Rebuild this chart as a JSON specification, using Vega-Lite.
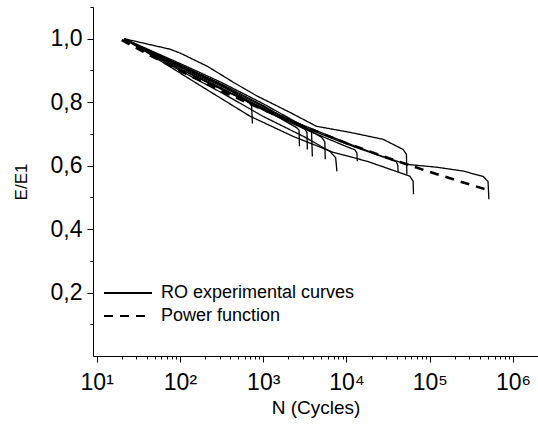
{
  "$schema": "https://vega.github.io/schema/vega-lite/v6.json",
  "width": 445,
  "height": 349,
  "autosize": "none",
  "padding": {"left": 93, "top": 7, "right": 0, "bottom": 70},
  "background": "white",
  "config": {"font": "Liberation Sans", "view": {"stroke": null}},
  "datasets": {
    "exp": [
      {"c": "1", "i": 1, "N": 21.38, "E": 1.0, "type": "RO experimental curves"},
      {"c": "1", "i": 2, "N": 39.81, "E": 0.967, "type": "RO experimental curves"},
      {"c": "1", "i": 3, "N": 100, "E": 0.917, "type": "RO experimental curves"},
      {"c": "1", "i": 4, "N": 316.2, "E": 0.855, "type": "RO experimental curves"},
      {"c": "1", "i": 5, "N": 631, "E": 0.805, "type": "RO experimental curves"},
      {"c": "1", "i": 6, "N": 724.4, "E": 0.79, "type": "RO experimental curves"},
      {"c": "1", "i": 7, "N": 741.3, "E": 0.733, "type": "RO experimental curves"},

      {"c": "2", "i": 1, "N": 21.38, "E": 1.0, "type": "RO experimental curves"},
      {"c": "2", "i": 2, "N": 100, "E": 0.912, "type": "RO experimental curves"},
      {"c": "2", "i": 3, "N": 316.2, "E": 0.85, "type": "RO experimental curves"},
      {"c": "2", "i": 4, "N": 1000, "E": 0.78, "type": "RO experimental curves"},
      {"c": "2", "i": 5, "N": 2512, "E": 0.72, "type": "RO experimental curves"},
      {"c": "2", "i": 6, "N": 2692, "E": 0.712, "type": "RO experimental curves"},
      {"c": "2", "i": 7, "N": 2723, "E": 0.661, "type": "RO experimental curves"},

      {"c": "3", "i": 1, "N": 21.38, "E": 0.998, "type": "RO experimental curves"},
      {"c": "3", "i": 2, "N": 100, "E": 0.918, "type": "RO experimental curves"},
      {"c": "3", "i": 3, "N": 316.2, "E": 0.857, "type": "RO experimental curves"},
      {"c": "3", "i": 4, "N": 1000, "E": 0.789, "type": "RO experimental curves"},
      {"c": "3", "i": 5, "N": 3162, "E": 0.715, "type": "RO experimental curves"},
      {"c": "3", "i": 6, "N": 3350, "E": 0.705, "type": "RO experimental curves"},
      {"c": "3", "i": 7, "N": 3388, "E": 0.651, "type": "RO experimental curves"},

      {"c": "4", "i": 1, "N": 21.38, "E": 1.0, "type": "RO experimental curves"},
      {"c": "4", "i": 2, "N": 100, "E": 0.922, "type": "RO experimental curves"},
      {"c": "4", "i": 3, "N": 316.2, "E": 0.862, "type": "RO experimental curves"},
      {"c": "4", "i": 4, "N": 1000, "E": 0.795, "type": "RO experimental curves"},
      {"c": "4", "i": 5, "N": 3162, "E": 0.722, "type": "RO experimental curves"},
      {"c": "4", "i": 6, "N": 3802, "E": 0.708, "type": "RO experimental curves"},
      {"c": "4", "i": 7, "N": 3890, "E": 0.629, "type": "RO experimental curves"},

      {"c": "5", "i": 1, "N": 21.38, "E": 1.0, "type": "RO experimental curves"},
      {"c": "5", "i": 2, "N": 100, "E": 0.915, "type": "RO experimental curves"},
      {"c": "5", "i": 3, "N": 316.2, "E": 0.853, "type": "RO experimental curves"},
      {"c": "5", "i": 4, "N": 1000, "E": 0.786, "type": "RO experimental curves"},
      {"c": "5", "i": 5, "N": 3162, "E": 0.718, "type": "RO experimental curves"},
      {"c": "5", "i": 6, "N": 5012, "E": 0.69, "type": "RO experimental curves"},
      {"c": "5", "i": 7, "N": 5495, "E": 0.675, "type": "RO experimental curves"},
      {"c": "5", "i": 8, "N": 5559, "E": 0.62, "type": "RO experimental curves"},

      {"c": "6", "i": 1, "N": 21.38, "E": 0.998, "type": "RO experimental curves"},
      {"c": "6", "i": 2, "N": 100, "E": 0.9, "type": "RO experimental curves"},
      {"c": "6", "i": 3, "N": 316.2, "E": 0.83, "type": "RO experimental curves"},
      {"c": "6", "i": 4, "N": 1000, "E": 0.755, "type": "RO experimental curves"},
      {"c": "6", "i": 5, "N": 3162, "E": 0.69, "type": "RO experimental curves"},
      {"c": "6", "i": 6, "N": 6310, "E": 0.645, "type": "RO experimental curves"},
      {"c": "6", "i": 7, "N": 7413, "E": 0.625, "type": "RO experimental curves"},
      {"c": "6", "i": 8, "N": 7674, "E": 0.582, "type": "RO experimental curves"},

      {"c": "7", "i": 1, "N": 21.38, "E": 1.0, "type": "RO experimental curves"},
      {"c": "7", "i": 2, "N": 100, "E": 0.91, "type": "RO experimental curves"},
      {"c": "7", "i": 3, "N": 316.2, "E": 0.845, "type": "RO experimental curves"},
      {"c": "7", "i": 4, "N": 1000, "E": 0.775, "type": "RO experimental curves"},
      {"c": "7", "i": 5, "N": 3162, "E": 0.715, "type": "RO experimental curves"},
      {"c": "7", "i": 6, "N": 10000, "E": 0.66, "type": "RO experimental curves"},
      {"c": "7", "i": 7, "N": 12589, "E": 0.65, "type": "RO experimental curves"},
      {"c": "7", "i": 8, "N": 13335, "E": 0.64, "type": "RO experimental curves"},
      {"c": "7", "i": 9, "N": 13490, "E": 0.614, "type": "RO experimental curves"},

      {"c": "8", "i": 1, "N": 21.38, "E": 1.0, "type": "RO experimental curves"},
      {"c": "8", "i": 2, "N": 100, "E": 0.905, "type": "RO experimental curves"},
      {"c": "8", "i": 3, "N": 316.2, "E": 0.842, "type": "RO experimental curves"},
      {"c": "8", "i": 4, "N": 1000, "E": 0.778, "type": "RO experimental curves"},
      {"c": "8", "i": 5, "N": 3162, "E": 0.72, "type": "RO experimental curves"},
      {"c": "8", "i": 6, "N": 10000, "E": 0.668, "type": "RO experimental curves"},
      {"c": "8", "i": 7, "N": 31623, "E": 0.622, "type": "RO experimental curves"},
      {"c": "8", "i": 8, "N": 39811, "E": 0.612, "type": "RO experimental curves"},
      {"c": "8", "i": 9, "N": 41400, "E": 0.6, "type": "RO experimental curves"},
      {"c": "8", "i": 10, "N": 41687, "E": 0.579, "type": "RO experimental curves"},

      {"c": "9", "i": 1, "N": 21.38, "E": 1.0, "type": "RO experimental curves"},
      {"c": "9", "i": 2, "N": 75.86, "E": 0.967, "type": "RO experimental curves"},
      {"c": "9", "i": 3, "N": 100, "E": 0.955, "type": "RO experimental curves"},
      {"c": "9", "i": 4, "N": 213.8, "E": 0.913, "type": "RO experimental curves"},
      {"c": "9", "i": 5, "N": 436.5, "E": 0.863, "type": "RO experimental curves"},
      {"c": "9", "i": 6, "N": 851.1, "E": 0.819, "type": "RO experimental curves"},
      {"c": "9", "i": 7, "N": 2089, "E": 0.768, "type": "RO experimental curves"},
      {"c": "9", "i": 8, "N": 4365, "E": 0.724, "type": "RO experimental curves"},
      {"c": "9", "i": 9, "N": 10965, "E": 0.705, "type": "RO experimental curves"},
      {"c": "9", "i": 10, "N": 27542, "E": 0.683, "type": "RO experimental curves"},
      {"c": "9", "i": 11, "N": 47863, "E": 0.651, "type": "RO experimental curves"},
      {"c": "9", "i": 12, "N": 52481, "E": 0.636, "type": "RO experimental curves"},
      {"c": "9", "i": 13, "N": 53088, "E": 0.573, "type": "RO experimental curves"},

      {"c": "10", "i": 1, "N": 21.88, "E": 1.0, "type": "RO experimental curves"},
      {"c": "10", "i": 2, "N": 173.8, "E": 0.853, "type": "RO experimental curves"},
      {"c": "10", "i": 3, "N": 691.8, "E": 0.756, "type": "RO experimental curves"},
      {"c": "10", "i": 4, "N": 2291, "E": 0.692, "type": "RO experimental curves"},
      {"c": "10", "i": 5, "N": 6918, "E": 0.642, "type": "RO experimental curves"},
      {"c": "10", "i": 6, "N": 17579, "E": 0.614, "type": "RO experimental curves"},
      {"c": "10", "i": 7, "N": 57544, "E": 0.567, "type": "RO experimental curves"},
      {"c": "10", "i": 8, "N": 63096, "E": 0.551, "type": "RO experimental curves"},
      {"c": "10", "i": 9, "N": 63826, "E": 0.51, "type": "RO experimental curves"},

      {"c": "11", "i": 1, "N": 21.38, "E": 1.0, "type": "RO experimental curves"},
      {"c": "11", "i": 2, "N": 100, "E": 0.905, "type": "RO experimental curves"},
      {"c": "11", "i": 3, "N": 316.2, "E": 0.84, "type": "RO experimental curves"},
      {"c": "11", "i": 4, "N": 1000, "E": 0.782, "type": "RO experimental curves"},
      {"c": "11", "i": 5, "N": 3162, "E": 0.725, "type": "RO experimental curves"},
      {"c": "11", "i": 6, "N": 10000, "E": 0.672, "type": "RO experimental curves"},
      {"c": "11", "i": 7, "N": 25119, "E": 0.632, "type": "RO experimental curves"},
      {"c": "11", "i": 8, "N": 53088, "E": 0.604, "type": "RO experimental curves"},
      {"c": "11", "i": 9, "N": 121619, "E": 0.595, "type": "RO experimental curves"},
      {"c": "11", "i": 10, "N": 251189, "E": 0.583, "type": "RO experimental curves"},
      {"c": "11", "i": 11, "N": 436516, "E": 0.566, "type": "RO experimental curves"},
      {"c": "11", "i": 12, "N": 501187, "E": 0.55, "type": "RO experimental curves"},
      {"c": "11", "i": 13, "N": 512861, "E": 0.494, "type": "RO experimental curves"}
    ],
    "pow": [
      {"N": 20, "E": 0.996, "type": "Power function"},
      {"N": 40, "E": 0.953, "type": "Power function"},
      {"N": 100, "E": 0.899, "type": "Power function"},
      {"N": 316.2, "E": 0.835, "type": "Power function"},
      {"N": 1000, "E": 0.776, "type": "Power function"},
      {"N": 3162, "E": 0.722, "type": "Power function"},
      {"N": 10000, "E": 0.671, "type": "Power function"},
      {"N": 31623, "E": 0.624, "type": "Power function"},
      {"N": 100000, "E": 0.58, "type": "Power function"},
      {"N": 316228, "E": 0.539, "type": "Power function"},
      {"N": 501187, "E": 0.523, "type": "Power function"}
    ]
  },
  "resolve": {"axis": {"x": "independent", "y": "independent"}},
  "layer": [
    {
      "data": {"name": "exp"},
      "mark": {"type": "line", "color": "black", "strokeWidth": 1.3},
      "encoding": {
        "x": {
          "field": "N", "type": "quantitative",
          "scale": {"type": "log", "domain": [9.03, 1995000], "nice": false},
          "axis": {
            "orient": "bottom",
            "values": [10, 100, 1000, 10000, 100000, 1000000],
            "labelExpr": "'10' + ['¹','²','³','⁴','⁵','⁶'][round(log(datum.value)/LN10) - 1]",
            "labelFontSize": 23, "labelColor": "black", "labelPadding": 9,
            "tickSize": 6, "tickColor": "black", "domainColor": "black",
            "grid": false, "labelFlush": false, "labelOverlap": false,
            "title": "N (Cycles)", "titleFontSize": 19, "titleFontWeight": "normal",
            "titleColor": "black", "titlePadding": 4
          }
        },
        "y": {
          "field": "E", "type": "quantitative",
          "scale": {"domain": [0, 1.1], "nice": false, "zero": false},
          "axis": {
            "orient": "left",
            "values": [0.2, 0.4, 0.6, 0.8, 1.0],
            "labelExpr": "replace(format(datum.value, '.1f'), '.', ',')",
            "labelFontSize": 23, "labelColor": "black", "labelPadding": 5,
            "tickSize": 6, "tickColor": "black", "domainColor": "black",
            "grid": false, "labelFlush": false, "labelOverlap": false,
            "title": "E/E1", "titleFontSize": 17, "titleFontWeight": "normal",
            "titleColor": "black", "titlePadding": 20
          }
        },
        "detail": {"field": "c"},
        "order": {"field": "i"},
        "strokeDash": {
          "field": "type", "type": "nominal",
          "scale": {"domain": ["RO experimental curves", "Power function"], "range": [[1, 0], [9, 7]]},
          "legend": {
            "title": null, "orient": "none", "legendX": 26, "legendY": 277,
            "symbolType": "M-4.8,0H4.8", "symbolSize": 100, "symbolStrokeColor": "black",
            "symbolStrokeWidth": 2, "labelFontSize": 18, "labelColor": "black",
            "labelOffset": 24, "labelLimit": 400, "rowPadding": 5, "padding": 0
          }
        }
      }
    },
    {
      "data": {"name": "pow"},
      "mark": {"type": "line", "color": "black", "strokeWidth": 2.6},
      "encoding": {
        "x": {
          "field": "N", "type": "quantitative",
          "axis": {
            "orient": "bottom",
            "values": [20, 30, 40, 50, 60, 70, 80, 90, 200, 300, 400, 500, 600, 700, 800, 900, 2000, 3000, 4000, 5000, 6000, 7000, 8000, 9000, 20000, 30000, 40000, 50000, 60000, 70000, 80000, 90000, 200000, 300000, 400000, 500000, 600000, 700000, 800000, 900000],
            "labels": false, "domain": false, "grid": false, "title": null,
            "tickSize": 3, "tickColor": "black"
          }
        },
        "y": {
          "field": "E", "type": "quantitative",
          "axis": {
            "orient": "left",
            "values": [0.1, 0.3, 0.5, 0.7, 0.9, 1.1],
            "labels": false, "domain": false, "grid": false, "title": null,
            "tickSize": 3, "tickColor": "black"
          }
        },
        "strokeDash": {"field": "type", "type": "nominal"}
      }
    }
  ]
}
